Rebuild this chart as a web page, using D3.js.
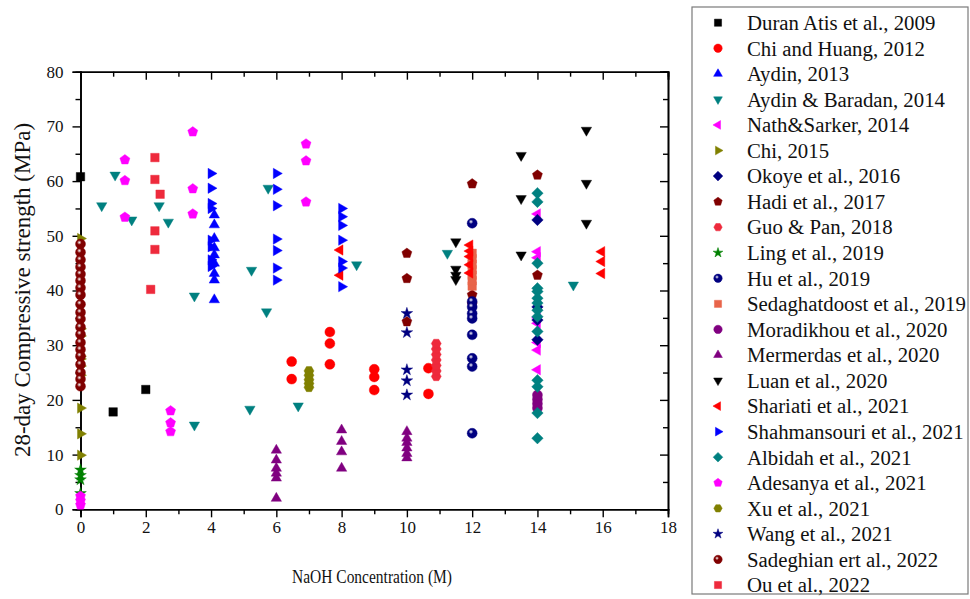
<!DOCTYPE html>
<html>
<head>
<meta charset="utf-8">
<script src="https://cdn.jsdelivr.net/npm/d3@7"></script>
<style>
  html, body { margin: 0; padding: 0; background: #fff; }
  svg text { font-family: "Liberation Serif", "Times New Roman", serif; fill: #111; }
</style>
</head>
<body>
<svg id="chart" width="970" height="599"></svg>
<script>
// ---- data: [NaOH concentration (M), 28-day compressive strength (MPa)] ----
const duranAtis2009 = [[0, 60.8], [1, 17.8], [2, 21.9]];
const chiHuang2012 = [[6.47, 27.0], [6.47, 23.8], [7.64, 32.4], [7.64, 30.3], [7.64, 26.5],
  [9.0, 25.6], [9.0, 24.2], [9.0, 21.8], [10.66, 25.8], [10.66, 21.1]];
const aydin2013 = [[4.1, 53.8], [4.1, 52.0], [4.1, 49.5], [4.1, 47.8], [4.1, 46.5], [4.1, 45.0],
  [4.1, 43.1], [4.1, 41.9], [4.1, 38.3]];
const aydinBaradan2014 = [[0.65, 55.5], [1.06, 61.1], [1.57, 52.9], [2.41, 55.5], [2.69, 52.5],
  [3.49, 39.0], [3.49, 15.4], [5.19, 18.3], [5.24, 43.7], [5.7, 36.1], [5.75, 58.7], [6.67, 18.9],
  [8.46, 44.7], [11.24, 46.8], [15.1, 41.0]];
const nathSarker2014 = [[14, 54.0], [14, 47.1], [14, 46.0], [14, 35.0], [14, 34.0], [14, 30.5],
  [14, 29.1], [14, 25.5]];
const chi2015 = [[0, 49.5], [0, 33.0], [0, 31.7], [0, 28.0], [0, 27.5], [0, 26.2], [0, 24.5],
  [0, 18.5], [0, 13.8], [0, 9.9]];
const okoye2016 = [[14, 52.9], [14, 37.0], [14, 34.6], [14, 31.0]];
const hadi2017 = [[10, 46.8], [10, 42.2], [10, 34.3], [12, 59.5], [12, 39.2], [12, 37.5],
  [14, 61.1], [14, 42.8]];
const guoPan2018 = [[10.9, 24.3], [10.9, 25.3], [10.9, 26.3], [10.9, 27.3], [10.9, 28.3],
  [10.9, 29.3], [10.9, 30.3]];
const ling2019 = [[0, 7.2], [0, 6.2], [0, 5.4], [0, 2.9]];
const hu2019 = [[12, 52.3], [12, 38.0], [12, 37.0], [12, 35.8], [12, 34.9], [12, 31.9],
  [12, 27.6], [12, 26.1], [12, 13.9]];
const sedaghatdoost2019 = [[12, 40.8], [12, 41.8], [12, 42.8], [12, 43.8], [12, 44.8],
  [12, 45.8], [12, 46.8]];
const moradikhou2020 = [[14, 18.5], [14, 19.3], [14, 20.1], [14, 20.9]];
const mermerdas2020 = [[6, 10.8], [6, 9.0], [6, 7.5], [6, 6.6], [6, 5.7], [6, 2.0],
  [8, 14.5], [8, 12.4], [8, 10.5], [8, 7.5],
  [10, 14.2], [10, 13.0], [10, 12.2], [10, 11.2], [10, 10.2], [10, 9.4]];
const luan2020 = [[11.5, 48.9], [11.5, 43.9], [11.5, 42.8], [11.5, 42.0], [13.5, 64.7],
  [13.5, 56.8], [13.5, 46.5], [15.5, 69.3], [15.5, 59.6], [15.5, 52.3]];
const shariati2021 = [[7.95, 47.4], [7.95, 42.8], [11.93, 48.3], [11.93, 47.2], [11.93, 46.2],
  [11.93, 44.7], [11.93, 43.2], [15.97, 47.1], [15.97, 45.3], [15.97, 43.1]];
const shahmansouri2021 = [[4, 61.4], [4, 58.7], [4, 55.9], [4, 55.0], [4, 49.2], [4, 48.0],
  [4, 45.6], [4, 44.4], [6, 61.4], [6, 58.5], [6, 55.5], [6, 49.4], [6, 47.3], [6, 44.1], [6, 41.9],
  [8, 55.0], [8, 53.5], [8, 51.9], [8, 49.2], [8, 45.3], [8, 44.1], [8, 40.7]];
const albidah2021 = [[14, 57.8], [14, 56.2], [14, 45.0], [14, 40.4], [14, 39.8], [14, 38.6],
  [14, 37.7], [14, 36.4], [14, 35.2], [14, 32.5], [14, 23.6], [14, 22.4], [14, 17.6], [14, 13.0]];
const adesanya2021 = [[0, 0.8], [0, 1.6], [0, 2.4], [1.36, 63.9], [1.36, 60.1], [1.36, 53.4],
  [2.76, 18.0], [2.76, 15.8], [2.76, 14.2], [3.44, 69.0], [3.44, 58.6], [3.44, 54.0],
  [6.91, 66.8], [6.91, 63.7], [6.91, 56.2]];
const xu2021 = [[7, 22.3], [7, 23.0], [7, 23.7], [7, 24.5], [7, 25.3]];
const wang2021 = [[10, 35.8], [10, 32.3], [10, 25.5], [10, 23.5], [10, 20.9]];
const sadeghian2022 = [[0, 48.5], [0, 47.0], [0, 45.6], [0, 44.3], [0, 43.0], [0, 41.8],
  [0, 40.5], [0, 39.2], [0, 37.5], [0, 36.0], [0, 34.8], [0, 33.3], [0, 32.0], [0, 30.5],
  [0, 29.2], [0, 28.0], [0, 26.5], [0, 25.0], [0, 23.8], [0, 22.5]];
const ou2022 = [[2.28, 64.3], [2.28, 60.3], [2.44, 57.6], [2.28, 50.9], [2.28, 47.5], [2.15, 40.2]];

const xTicks = [0, 2, 4, 6, 8, 10, 12, 14, 16, 18];
const yTicks = [0, 10, 20, 30, 40, 50, 60, 70, 80];

// ---- series: legend label, marker shape, colour ----
const series = [
  { label: "Duran Atis et al., 2009", data: duranAtis2009, shape: "square", color: "#000000" },
  { label: "Chi and Huang, 2012", data: chiHuang2012, shape: "circle", color: "#ff0000" },
  { label: "Aydin, 2013", data: aydin2013, shape: "triUp", color: "#0000ff" },
  { label: "Aydin & Baradan, 2014", data: aydinBaradan2014, shape: "triDown", color: "#008080" },
  { label: "Nath&Sarker, 2014", data: nathSarker2014, shape: "triLeft", color: "#ff00ff" },
  { label: "Chi, 2015", data: chi2015, shape: "triRight", color: "#808000" },
  { label: "Okoye et al., 2016", data: okoye2016, shape: "diamond", color: "#000080" },
  { label: "Hadi et al., 2017", data: hadi2017, shape: "pentagon", color: "#800000" },
  { label: "Guo & Pan, 2018", data: guoPan2018, shape: "hexagon", color: "#ee2a3c" },
  { label: "Ling et al., 2019", data: ling2019, shape: "star", color: "#008000" },
  { label: "Hu et al., 2019", data: hu2019, shape: "sphere", color: "#000080" },
  { label: "Sedaghatdoost et al., 2019", data: sedaghatdoost2019, shape: "square", color: "#e8644a" },
  { label: "Moradikhou et al., 2020", data: moradikhou2020, shape: "circle", color: "#800080" },
  { label: "Mermerdas et al., 2020", data: mermerdas2020, shape: "triUp", color: "#800080" },
  { label: "Luan et al., 2020", data: luan2020, shape: "triDown", color: "#000000" },
  { label: "Shariati et al., 2021", data: shariati2021, shape: "triLeft", color: "#ff0000" },
  { label: "Shahmansouri et al., 2021", data: shahmansouri2021, shape: "triRight", color: "#0000ff" },
  { label: "Albidah et al., 2021", data: albidah2021, shape: "diamond", color: "#008080" },
  { label: "Adesanya et al., 2021", data: adesanya2021, shape: "pentagon", color: "#ff00ff" },
  { label: "Xu et al., 2021", data: xu2021, shape: "hexagon", color: "#808000" },
  { label: "Wang et al., 2021", data: wang2021, shape: "star", color: "#000080" },
  { label: "Sadeghian ert al., 2022", data: sadeghian2022, shape: "sphere", color: "#800000" },
  { label: "Ou et al., 2022", data: ou2022, shape: "square", color: "#ee2a3c" }
];

// ---- layout ----
const svg = d3.select("#chart");
const plot = { left: 80.5, right: 668, top: 71.7, bottom: 509.3 };

const x = d3.scaleLinear().domain([0, 18]).range([plot.left, plot.right]);
const y = d3.scaleLinear().domain([0, 80]).range([plot.bottom, plot.top]);

// ---- marker path builder ----
function polygon(n, r, rot) {
  const p = d3.path();
  for (let i = 0; i < n; i++) {
    const a = rot + i * 2 * Math.PI / n;
    const px = r * Math.cos(a), py = r * Math.sin(a);
    if (i === 0) p.moveTo(px, py); else p.lineTo(px, py);
  }
  p.closePath();
  return p.toString();
}
function markerPath(shape, s) {
  switch (shape) {
    case "square": return `M${-s * 0.85},${-s * 0.85}H${s * 0.85}V${s * 0.85}H${-s * 0.85}Z`;
    case "circle":
    case "sphere": return d3.symbol(d3.symbolCircle, Math.PI * s * s)();
    case "triUp": return polygon(3, s * 1.2, -Math.PI / 2);
    case "triDown": return polygon(3, s * 1.2, Math.PI / 2);
    case "triLeft": return polygon(3, s * 1.2, Math.PI);
    case "triRight": return polygon(3, s * 1.2, 0);
    case "diamond": return polygon(4, s * 1.15, -Math.PI / 2);
    case "pentagon": return polygon(5, s * 1.05, -Math.PI / 2);
    case "hexagon": return polygon(6, s * 1.0, 0);
    case "star": return d3.symbol(d3.symbolStar, s * s * 1.7)();
  }
}

// radial gradients for the shaded sphere markers
const defs = svg.append("defs");
series.filter(d => d.shape === "sphere").forEach((d, i) => {
  const g = defs.append("radialGradient").attr("id", "sph" + i)
    .attr("cx", "38%").attr("cy", "35%").attr("r", "65%");
  g.append("stop").attr("offset", "0%").attr("stop-color", "#ffffff");
  g.append("stop").attr("offset", "35%").attr("stop-color", d.color);
  g.append("stop").attr("offset", "100%").attr("stop-color", d.color);
  d.fillRef = "url(#sph" + i + ")";
});
const fillOf = d => d.fillRef || d.color;

// ---- axes ----
const axisFont = 17;
function styleAxis(g) {
  g.select(".domain").attr("stroke", "#000").attr("stroke-width", 1.6);
  g.selectAll(".tick line").attr("stroke", "#000").attr("stroke-width", 1.4);
  g.selectAll("text").style("font-size", axisFont + "px")
    .style("font-family", "'Liberation Serif', serif").attr("fill", "#111");
}
const minorX = d3.range(1, 18, 2);
const minorY = d3.range(5, 80, 10);

// bottom: ticks outward
svg.append("g").attr("transform", `translate(0,${plot.bottom})`)
  .call(d3.axisBottom(x).tickValues(xTicks).tickSize(8).tickPadding(4).tickFormat(d3.format("d")))
  .call(styleAxis);
svg.append("g").attr("transform", `translate(0,${plot.bottom})`)
  .call(d3.axisBottom(x).tickValues(minorX).tickSize(5).tickFormat(""))
  .call(styleAxis);
// top: ticks inward, no labels
svg.append("g").attr("transform", `translate(0,${plot.top})`)
  .call(d3.axisBottom(x).tickValues(xTicks).tickSize(8).tickFormat(""))
  .call(styleAxis);
svg.append("g").attr("transform", `translate(0,${plot.top})`)
  .call(d3.axisBottom(x).tickValues(minorX).tickSize(5).tickFormat(""))
  .call(styleAxis);
// left: ticks outward
svg.append("g").attr("transform", `translate(${plot.left},0)`)
  .call(d3.axisLeft(y).tickValues(yTicks).tickSize(8).tickPadding(9).tickFormat(d3.format("d")))
  .call(styleAxis);
svg.append("g").attr("transform", `translate(${plot.left},0)`)
  .call(d3.axisLeft(y).tickValues(minorY).tickSize(5).tickFormat(""))
  .call(styleAxis);
// right: ticks inward, no labels
svg.append("g").attr("transform", `translate(${plot.right},0)`)
  .call(d3.axisLeft(y).tickValues(yTicks).tickSize(8).tickFormat(""))
  .call(styleAxis);
svg.append("g").attr("transform", `translate(${plot.right},0)`)
  .call(d3.axisLeft(y).tickValues(minorY).tickSize(5).tickFormat(""))
  .call(styleAxis);

// axis titles
svg.append("text")
  .attr("x", 372).attr("y", 583)
  .attr("text-anchor", "middle").style("font-size", "18px")
  .attr("textLength", 160).attr("lengthAdjust", "spacingAndGlyphs")
  .text("NaOH Concentration (M)");
svg.append("text")
  .attr("transform", `translate(30,290) rotate(-90)`)
  .attr("text-anchor", "middle").style("font-size", "23px")
  .text("28-day Compressive strength (MPa)");

// ---- points ----
const markerSize = 5;
const pts = svg.append("g");
series.forEach(s => {
  pts.append("g").selectAll("path").data(s.data).join("path")
    .attr("transform", d => `translate(${x(d[0])},${y(d[1])})`)
    .attr("d", markerPath(s.shape, markerSize))
    .attr("fill", fillOf(s))
    .attr("stroke", s.color).attr("stroke-width", 0.6).attr("stroke-opacity", 0.7);
});

// ---- legend ----
const legend = svg.append("g");
legend.append("rect")
  .attr("x", 692).attr("y", 7).attr("width", 276).attr("height", 587)
  .attr("fill", "#fff").attr("stroke", "#7a7a7a").attr("stroke-width", 1.2);
const rowH = 25.56;
const rows = legend.selectAll("g.row").data(series).join("g")
  .attr("class", "row")
  .attr("transform", (d, i) => `translate(0,${22.7 + i * rowH})`);
rows.append("path")
  .attr("transform", "translate(718,0)")
  .attr("d", d => markerPath(d.shape, 4.2))
  .attr("fill", fillOf).attr("stroke", d => d.color).attr("stroke-width", 0.5);
rows.append("text")
  .attr("x", 747).attr("y", 0).attr("dy", "0.35em")
  .style("font-size", "20.8px").attr("fill", "#222")
  .text(d => d.label);
</script>
</body>
</html>
